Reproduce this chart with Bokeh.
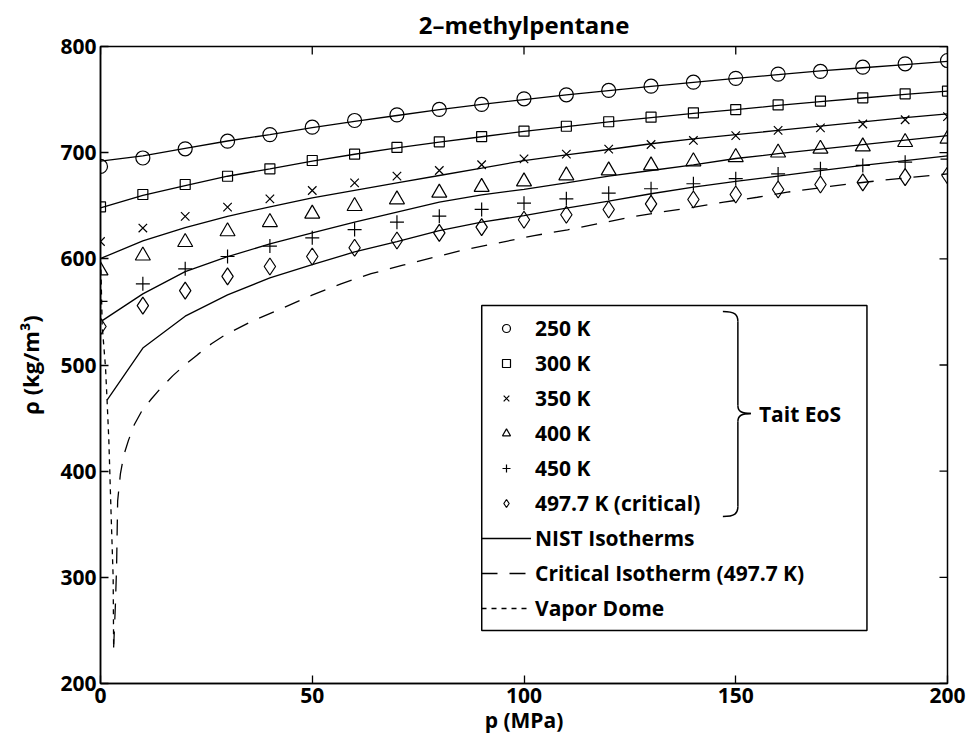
import numpy as np
from bokeh.plotting import figure
from bokeh.models import (Range1d, FixedTicker, Legend, LegendItem, Label,
                          BoxAnnotation)
from bokeh.embed import file_html
from bokeh.resources import INLINE

# ---------------- data ----------------
title_text = "2\u2013methylpentane"
x_label = "p (MPa)"
y_label = "\u03c1 (kg/m\u00b3)"
x_ticks = [0, 50, 100, 150, 200]
y_ticks = [200, 300, 400, 500, 600, 700, 800]

# Tait EoS points (markers)
pressure = [0, 10, 20, 30, 40, 50, 60, 70, 80, 90, 100,
            110, 120, 130, 140, 150, 160, 170, 180, 190, 200]
tait_250 = [687, 695, 703.6, 710.8, 717, 724.0, 730.3, 735.6, 740.7, 745.4, 750.7,
            754.5, 758.6, 762.6, 766.4, 770, 774, 776.5, 780.5, 783.7, 786.8]
tait_300 = [649, 660.6, 670, 677.8, 684.8, 692.6, 698.6, 704.9, 710.2, 715.2, 720.2,
            724.9, 729.1, 733.4, 737.5, 740.6, 745, 748.5, 751.7, 755.4, 758]
tait_350 = [616.3, 629, 640, 648.7, 656.5, 664.4, 671.6, 677.9, 683.2, 688.6, 694.2,
            698.6, 703.3, 707.7, 711.5, 716, 721, 723.4, 727, 731, 734]
tait_400 = [589, 603, 615.7, 625.8, 634.5, 642.4, 649.6, 655.9, 662.2, 667.6, 672.8,
            678.5, 683.2, 687.9, 691.7, 695.7, 700, 703.6, 705.8, 709.9, 713]
tait_450 = [560, 576.5, 590.6, 602.2, 612, 619.8, 627.6, 634.5, 640.2, 646.5, 652.4,
            656.5, 661.8, 666, 670.7, 675.5, 680, 684.8, 688, 691, 694]
tait_crit = [536.3, 556, 570, 583.4, 592.8, 602.2, 610.4, 617.3, 624.5, 629.8, 636.8,
             641.5, 646.5, 651.8, 655.9, 660.6, 665.3, 670, 672, 677, 678.5]

# NIST isotherms (solid lines)
nist_p_250 = [0, 10, 20, 30, 40, 50, 60, 70, 80, 90, 100,
              110, 120, 130, 140, 150, 160, 170, 180, 190, 200]
nist_250 = [692, 697, 704, 711, 717, 723.5, 729.5, 735, 740.5, 745.5, 750,
            754.5, 758.5, 762.5, 766.3, 770, 773.5, 777, 780, 783, 786]
nist_p_300 = [0, 10, 20, 30, 40, 50, 60, 70, 80, 90, 100,
              110, 120, 130, 140, 150, 160, 170, 180, 190, 200]
nist_300 = [648, 659.7, 669, 677.8, 684.8, 692, 698.5, 704.5, 710, 715, 720,
            724.5, 729, 733, 737, 740.5, 744.5, 748, 751.5, 755, 758]
nist_p_350 = [0.2, 10, 20, 30, 40, 50, 60, 70, 80, 90, 100,
              110, 120, 130, 140, 150, 160, 170, 180, 190, 200]
nist_350 = [600.6, 617, 629.5, 640, 649, 657.4, 664.4, 671.6, 678.5, 685.4, 692.6,
            698, 703, 708.4, 713, 717, 721, 725, 729, 733, 736.6]
nist_p_400 = [0.5, 10, 20, 30, 40, 50, 60, 70, 80, 90, 100,
              110, 120, 130, 140, 150, 160, 170, 180, 190, 200]
nist_400 = [542, 567, 588, 602, 614, 624.5, 634.5, 644, 653.4, 660.3, 665.5,
            671.6, 677.9, 683.2, 688.6, 694.5, 699, 703.3, 707.6, 711.8, 716]
nist_p_450 = [1.55, 10, 20, 30, 40, 50, 60, 70, 80, 90, 100,
              110, 120, 130, 140, 150, 160, 170, 180, 190, 200]
nist_450 = [467, 516, 546, 566, 582, 594.5, 606.5, 616.3, 626.5, 634.5, 640.8,
            647.7, 654.3, 661.3, 667.5, 673, 678, 683, 688, 692.5, 697]

# Critical isotherm 497.7 K (long dashes)
crit_p = [3.1, 3.5, 3.8, 4.05, 4.7, 5.5, 6.6, 8.0, 9.8, 12, 14.4, 17.1, 19.9, 23,
          26.2, 29.3, 35.6, 42.7, 49.8, 56.8, 63.9, 71.4, 78.8, 85.9, 93, 102.4,
          110.3, 118.2, 125.2, 132.3, 140.2, 147.2, 155.1, 162.2, 170, 177.1,
          184.2, 192, 200]
crit_rho = [234, 272, 310, 372, 397.5, 415, 429, 444, 457, 468, 479, 490, 500, 510,
            520, 528, 541, 553, 565.5, 576.5, 586, 594, 601.5, 608.5, 614.2, 621.9,
            627.3, 633.6, 639.3, 644, 648.7, 653.4, 658, 662.8, 667, 670.7,
            673.8, 677, 680]

# Vapor dome (short dashes)
dome_p = [0.1, 0.4, 0.8, 1.18, 1.55, 1.97, 2.5, 2.99, 3.1]
dome_rho = [590, 537, 517, 498, 467, 429, 360, 300, 235]

tait_labels = ["250 K", "300 K", "350 K", "400 K", "450 K", "497.7 K (critical)"]
line_labels = ["NIST Isotherms", "Critical Isotherm (497.7 K)", "Vapor Dome"]
brace_label = "Tait EoS"

# ---------------- layout constants ----------------
W, H = 970, 748
FL, FR, FT, FB = 100, 946.5, 46, 683   # frame edges (px)
XMIN, XMAX, YMIN, YMAX = 0, 200, 200, 800
FONT = "Open Sans"
LEG_L, LEG_R, LEG_T, LEG_B = 481, 866, 305, 630
TICK = 8


def dx(px):
    return XMIN + (px - FL) / (FR - FL) * (XMAX - XMIN)


def dy(py):
    return YMAX - (py - FT) / (FB - FT) * (YMAX - YMIN)


p = figure(width=W, height=H, x_range=Range1d(XMIN, XMAX), y_range=Range1d(YMIN, YMAX),
           output_backend="svg", toolbar_location=None,
           min_border_left=FL, min_border_right=int(W - FR), min_border_top=FT,
           min_border_bottom=H - FB)
p.xgrid.visible = False
p.ygrid.visible = False
p.outline_line_color = "black"
p.outline_line_width = 1.5
p.background_fill_color = "white"
p.border_fill_color = "white"

p.title.text = title_text
p.title.align = "center"
p.title.text_font = FONT
p.title.text_font_style = "bold"
p.title.text_font_size = "24px"
p.title.text_color = "black"
p.title.standoff = 11

bottom_ax = p.below[0]
left_ax = p.left[0]
bottom_ax.ticker = FixedTicker(ticks=x_ticks)
left_ax.ticker = FixedTicker(ticks=y_ticks)
bottom_ax.axis_label = x_label
left_ax.axis_label = y_label

for ax in [bottom_ax, left_ax]:
    ax.major_tick_in = TICK
    ax.major_tick_out = 0
    ax.minor_tick_line_color = None
    ax.axis_line_width = 1.5
    ax.axis_line_color = "black"
    ax.major_tick_line_width = 1.3
    ax.major_tick_line_color = "black"
    ax.major_label_text_font = FONT
    ax.major_label_text_font_style = "bold"
    ax.major_label_text_color = "black"
    ax.major_label_text_font_size = "21px"
    ax.major_label_standoff = 4
    ax.axis_label_text_font = FONT
    ax.axis_label_text_font_style = "bold"
    ax.axis_label_text_color = "black"
bottom_ax.axis_label_text_font_size = "21px"
left_ax.axis_label_text_font_size = "22px"
bottom_ax.axis_label_standoff = 0
left_ax.axis_label_standoff = 12

# tick marks on the top and right edges (inward, like the left/bottom ones)
p.segment(x0=x_ticks, y0=[YMAX] * len(x_ticks), x1=x_ticks,
          y1=[dy(FT + TICK)] * len(x_ticks), line_color="black", line_width=1.3)
p.segment(x0=[XMAX] * len(y_ticks), y0=y_ticks, x1=[dx(FR - TICK)] * len(y_ticks),
          y1=y_ticks, line_color="black", line_width=1.3)

LW = 1.3
# NIST lines
r_n250 = p.line(nist_p_250, nist_250, line_color="black", line_width=LW)
p.line(nist_p_300, nist_300, line_color="black", line_width=LW)
p.line(nist_p_350, nist_350, line_color="black", line_width=LW)
p.line(nist_p_400, nist_400, line_color="black", line_width=LW)
p.line(nist_p_450, nist_450, line_color="black", line_width=LW)
r_crit = p.line(crit_p, crit_rho, line_color="black", line_width=LW, line_dash="16 12")
r_dome = p.line(dome_p, dome_rho, line_color="black", line_width=LW, line_dash="5 5")

ML = 1.2
r250 = p.scatter(pressure, tait_250, marker="circle", size=14, fill_color=None,
                 line_color="black", line_width=ML)
r300 = p.scatter(pressure, tait_300, marker="square", size=10, fill_color=None,
                 line_color="black", line_width=ML)
r350 = p.scatter(pressure, tait_350, marker="x", size=12, fill_color=None,
                 line_color="black", line_width=ML)
r400 = p.scatter(pressure, tait_400, marker="triangle", size=15, fill_color=None,
                 line_color="black", line_width=ML)
r450 = p.scatter(pressure, tait_450, marker="cross", size=14, fill_color=None,
                 line_color="black", line_width=ML)
rcr = p.scatter(pressure, tait_crit, marker="diamond", size=17, fill_color=None,
                line_color="black", line_width=ML)

# legend frame (drawn separately so that it can be as wide as the reference's)
box = BoxAnnotation(left=dx(LEG_L), right=dx(LEG_R), top=dy(LEG_T), bottom=dy(LEG_B),
                    fill_color=None, line_color="black", line_width=1.5, line_alpha=1.0)
p.add_layout(box)

items = [LegendItem(label=lab, renderers=[r]) for lab, r in
         zip(tait_labels, [r250, r300, r350, r400, r450, rcr])]
items += [LegendItem(label=lab, renderers=[r]) for lab, r in
          zip(line_labels, [r_n250, r_crit, r_dome])]

legend = Legend(items=items, location=(LEG_L - FL, FB - 622),
                border_line_color=None, background_fill_alpha=0.0,
                padding=10, spacing=7, margin=0,
                glyph_width=50, glyph_height=20, label_height=20, label_standoff=4,
                label_text_font=FONT, label_text_font_style="bold",
                label_text_font_size="21px", label_text_color="black")
p.add_layout(legend)

# curly brace next to the Tait EoS entries
Xe, Xv, Xt = 722, 737, 750
Yt, Ym, Yb = 311, 413, 516
bz_x0 = [dx(Xe), dx(Xv), dx(Xt), dx(Xv)]
bz_y0 = [dy(Yt), dy(Ym - 8), dy(Ym), dy(Yb - 10)]
bz_x1 = [dx(Xv), dx(Xt), dx(Xv), dx(Xe)]
bz_y1 = [dy(Yt + 10), dy(Ym), dy(Ym + 8), dy(Yb)]
bz_cx0 = [dx(Xv - 3), dx(Xv), dx(Xt - 9), dx(Xv)]
bz_cy0 = [dy(Yt), dy(Ym - 2), dy(Ym), dy(Yb - 3)]
bz_cx1 = [dx(Xv), dx(Xt - 9), dx(Xv), dx(Xv - 3)]
bz_cy1 = [dy(Yt + 3), dy(Ym), dy(Ym + 2), dy(Yb)]
p.bezier(x0=bz_x0, y0=bz_y0, x1=bz_x1, y1=bz_y1, cx0=bz_cx0, cy0=bz_cy0,
         cx1=bz_cx1, cy1=bz_cy1, line_color="black", line_width=1.5)
p.segment(x0=[dx(Xv), dx(Xv)], y0=[dy(Yt + 10), dy(Ym + 8)],
          x1=[dx(Xv), dx(Xv)], y1=[dy(Ym - 8), dy(Yb - 10)],
          line_color="black", line_width=1.5)

p.add_layout(Label(x=dx(Xt + 8), y=dy(Ym), text=brace_label, text_font=FONT,
                   text_font_style="bold", text_font_size="21px", text_color="black",
                   text_baseline="middle", text_align="left"))

open("out.html", "w").write(file_html(p, INLINE))
